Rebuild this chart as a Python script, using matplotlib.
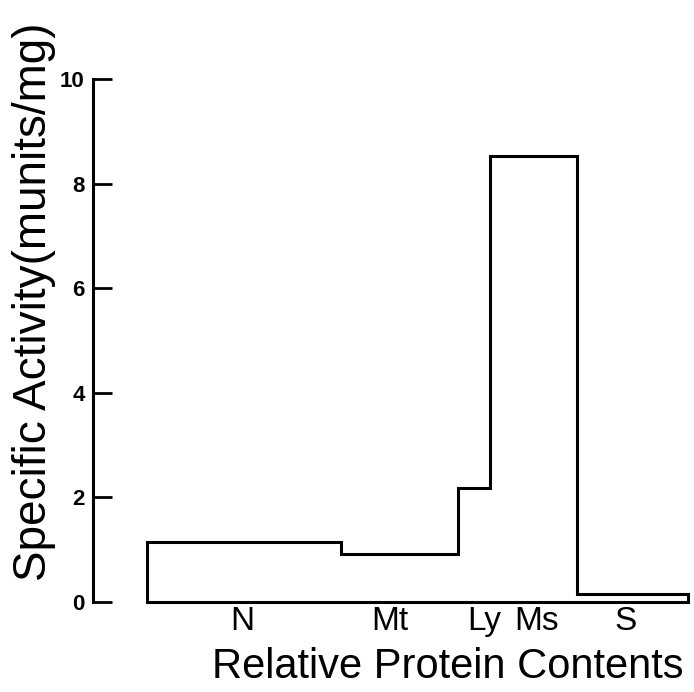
import matplotlib.pyplot as plt

# subcellular fractions and their specific activities
fractions = ["N", "Mt", "Ly", "Ms", "S"]
# cumulative relative protein content (%) at the fraction boundaries
edges = [0, 35.9, 57.5, 63.4, 79.5, 100]
activity = [1.14, 0.92, 2.18, 8.53, 0.15]
# where the fraction names sit under the axis
label_pos = [17.6, 44.9, 62.3, 72.1, 88.4]
yticks = [0, 2, 4, 6, 8, 10]

plt.rcParams['font.family'] = ['Liberation Sans', 'DejaVu Sans']

fig = plt.figure(figsize=(6.94, 6.92), dpi=100)
ax = fig.add_axes([93 / 694, 90 / 692, 595 / 694, 523 / 692])

ax.stairs(activity, edges, baseline=0, color='black', lw=2.2, clip_on=False)

ax.set_xlim(-9.98, 100)
ax.set_ylim(0, 10)

for side in ("top", "right"):
    ax.spines[side].set_visible(False)
ax.spines['left'].set_linewidth(2.2)
ax.spines['bottom'].set_linewidth(2.2)
ax.spines['bottom'].set_bounds(edges[0], edges[-1])

ax.set_yticks(yticks)
ax.set_yticklabels([str(v) for v in yticks], fontsize=16, fontweight='bold')
ax.tick_params(axis='y', direction='in', length=14, width=2, pad=6)

ax.set_xticks(label_pos)
ax.set_xticklabels(fractions, fontsize=24)
ax.tick_params(axis='x', length=0, pad=3)

ax.set_ylabel("Specific Activity(munits/mg)", fontsize=33)
ax.yaxis.set_label_coords(-0.062, 0.574)
ax.set_xlabel("Relative Protein Contents", fontsize=30)
ax.xaxis.set_label_coords(0.596, -0.086)

fig.savefig("out.png", dpi=100)
